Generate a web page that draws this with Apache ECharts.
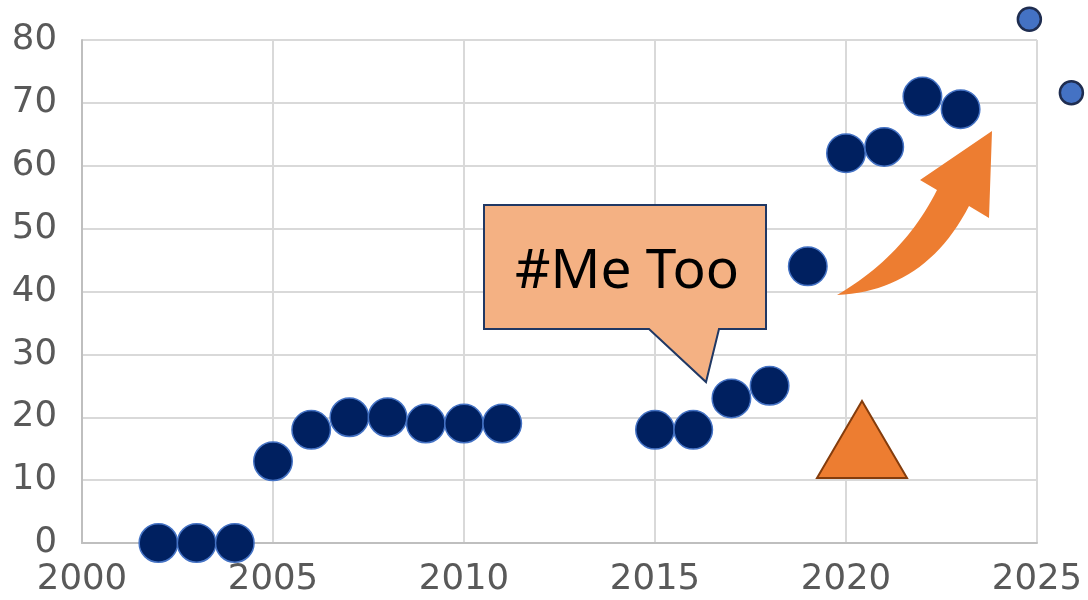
<!DOCTYPE html>
<html>
<head>
<meta charset="utf-8">
<script src="https://cdn.jsdelivr.net/npm/echarts@6/dist/echarts.min.js"></script>
<style>
html,body{margin:0;padding:0;background:#fff;}
#chart{width:1088px;height:600px;}
</style>
</head>
<body>
<div id="chart"></div>
<script>
// ---- data ----
const years = [2002, 2003, 2004, 2005, 2006, 2007, 2008, 2009, 2010, 2011, 2015, 2016, 2017, 2018, 2019, 2020, 2021, 2022, 2023];
const values = [0, 0, 0, 13, 18, 20, 20, 19, 19, 19, 18, 18, 23, 25, 44, 62, 63, 71, 69];
const extraX = [2024.8, 2025.9];
const extraY = [83.3, 71.6];
const calloutText = '#Me Too';
const xTicks = { min: 2000, max: 2025, interval: 5 };
const yTicks = { min: 0, max: 80, interval: 10 };

const mainData = years.map((y, i) => [y, values[i]]);
const extraData = extraX.map((x, i) => [x, extraY[i]]);

// curved arrow outline (decoration) built from quadratic curves
function quad(p0, c, p1, n) {
  const pts = [];
  for (let i = 0; i <= n; i++) {
    const t = i / n, u = 1 - t;
    pts.push([u*u*p0[0] + 2*u*t*c[0] + t*t*p1[0], u*u*p0[1] + 2*u*t*c[1] + t*t*p1[1]]);
  }
  return pts;
}
const arrowPts = [].concat(
  quad([837,295],[925,291],[969,206],24),
  [[989,218],[992,131],[920,180]],
  quad([937,190],[904,256],[837,295],24)
);

const chart = echarts.init(document.getElementById('chart'), null, { renderer: 'canvas' });
const labelFont = { fontFamily: 'DejaVu Sans', fontSize: 35.5, color: '#595959' };

chart.setOption({
  animation: false,
  grid: { left: 82, right: 51, top: 40, bottom: 57, containLabel: false },
  xAxis: {
    type: 'value', min: xTicks.min, max: xTicks.max, interval: xTicks.interval,
    axisLine: { show: true, lineStyle: { color: '#BFBFBF', width: 2 } },
    axisTick: { show: false },
    splitLine: { show: true, lineStyle: { color: '#D9D9D9', width: 2 } },
    axisLabel: Object.assign({ margin: 19, showMinLabel: true, showMaxLabel: true, formatter: v => String(v) }, labelFont)
  },
  yAxis: {
    type: 'value', min: yTicks.min, max: yTicks.max, interval: yTicks.interval,
    axisLine: { show: true, lineStyle: { color: '#BFBFBF', width: 2 } },
    axisTick: { show: false },
    splitLine: { show: true, lineStyle: { color: '#D9D9D9', width: 2 } },
    axisLabel: Object.assign({ margin: 25 }, labelFont)
  },
  series: [
    {
      type: 'scatter', data: mainData, symbol: 'circle', symbolSize: 38.5,
      itemStyle: { color: '#002060', borderColor: '#4472C4', borderWidth: 1.5, opacity: 1 },
      z: 3
    },
    {
      type: 'scatter', data: extraData, symbol: 'circle', symbolSize: 23, clip: false,
      itemStyle: { color: '#4472C4', borderColor: '#1F2D50', borderWidth: 2.5, opacity: 1 },
      z: 3
    }
  ],
  graphic: [
    {
      type: 'polygon', z: 100,
      shape: { points: [[484,205],[766,205],[766,329],[719,329],[706,382],[649,329],[484,329]] },
      style: { fill: '#F4B183', stroke: '#203864', lineWidth: 2 }
    },
    {
      type: 'text', z: 101, x: 627, y: 272,
      style: { text: calloutText, fontFamily: 'Noto Sans', fontSize: 55, fill: '#000', align: 'center', verticalAlign: 'middle' }
    },
    {
      type: 'polygon', z: 100,
      shape: { points: [[862,401],[907,478],[817,478]] },
      style: { fill: '#ED7D31', stroke: '#843C0C', lineWidth: 2 }
    },
    {
      type: 'polygon', z: 100,
      shape: { points: arrowPts },
      style: { fill: '#ED7D31' }
    }
  ]
});
</script>
</body>
</html>
